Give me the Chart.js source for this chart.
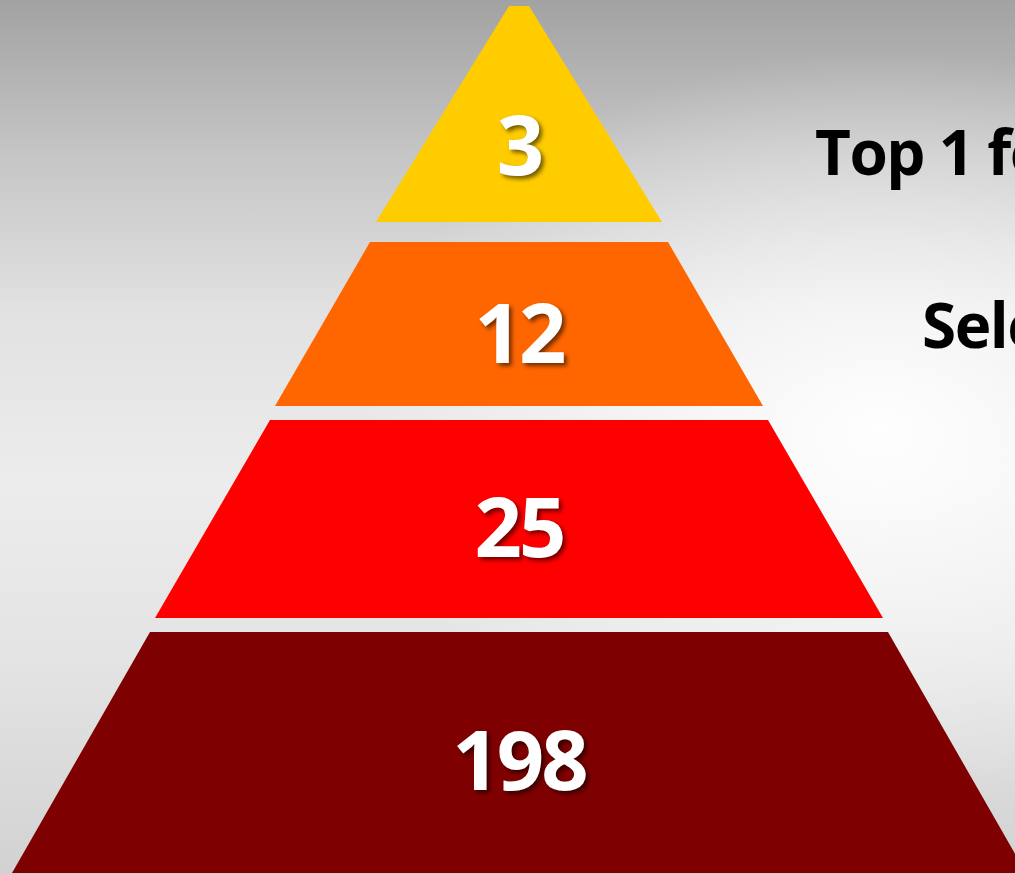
<!DOCTYPE html>
<html>
<head>
<meta charset="utf-8">
<script src="https://cdn.jsdelivr.net/npm/chart.js@4"></script>
<style>
  html, body { margin: 0; padding: 0; width: 1015px; height: 874px; overflow: hidden; }
  body {
    background:
      radial-gradient(ellipse 520px 380px at 880px 430px, rgba(255,255,255,0.95), rgba(255,255,255,0) 100%),
      linear-gradient(to bottom, #a2a2a2 0%, #c6c6c6 18%, #e2e2e2 36%, #ececec 55%, #e4e4e4 75%, #d2d2d2 100%);
  }
  #wrap { position: absolute; left: 0; top: 0; width: 1015px; height: 874px; }
</style>
</head>
<body>
<div id="wrap"><canvas id="c" width="1015" height="874"></canvas></div>
<script>
// ---- data ----
const levels = ['Level 1', 'Level 2', 'Level 3', 'Level 4'];
const values = [3, 12, 25, 198];
const sideLabels = ['Top 1 for', 'Selected'];

// ---- styles ----
const colors = ['#FFCC00', '#FF6600', '#FF0000', '#7F0000'];

// ---- layout (scale units, pyramid geometry) ----
const centerX = 519;
const bandTop = [6, 242, 420, 632];
const bandBottom = [222, 406, 618, 873];
const halfTop = [10, 149, 249, 369];
const halfBottom = [143, 244, 364, 507];
const labelMidY = [151, 339, 533, 766];
const sideLabelPos = [[815, 157], [922, 330]];

function bandPolygon(i) {
  return [
    { x: centerX - halfTop[i], y: bandTop[i] },
    { x: centerX + halfTop[i], y: bandTop[i] },
    { x: centerX + halfBottom[i], y: bandBottom[i] },
    { x: centerX - halfBottom[i], y: bandBottom[i] },
    { x: centerX - halfTop[i], y: bandTop[i] }
  ];
}

const datasets = levels.map((name, i) => ({
  label: name,
  data: bandPolygon(i),
  showLine: true,
  fill: 'shape',
  backgroundColor: colors[i],
  borderColor: colors[i],
  borderWidth: 0,
  pointRadius: 0,
  tension: 0
}));

const labelPlugin = {
  id: 'pyramidLabels',
  afterDatasetsDraw(chart) {
    const ctx = chart.ctx;
    const xs = chart.scales.x, ys = chart.scales.y;
    ctx.save();
    ctx.font = 'bold 83px "Open Sans", sans-serif';
    ctx.textAlign = 'center';
    ctx.textBaseline = 'middle';
    try { ctx.letterSpacing = '-3px'; } catch (e) {}
    values.forEach((v, i) => {
      ctx.shadowColor = 'rgba(0,0,0,0.55)';
      ctx.shadowOffsetX = 3;
      ctx.shadowOffsetY = 3;
      ctx.shadowBlur = 4;
      ctx.fillStyle = '#ffffff';
      ctx.fillText(String(v), xs.getPixelForValue(centerX), ys.getPixelForValue(labelMidY[i]));
    });
    ctx.shadowColor = 'transparent';
    try { ctx.letterSpacing = '-1.5px'; } catch (e) {}
    ctx.font = 'bold 62px "Open Sans", sans-serif';
    ctx.textAlign = 'left';
    ctx.fillStyle = '#000000';
    sideLabels.forEach((t, i) => {
      ctx.fillText(t, xs.getPixelForValue(sideLabelPos[i][0]), ys.getPixelForValue(sideLabelPos[i][1]));
    });
    ctx.restore();
  }
};

new Chart(document.getElementById('c'), {
  type: 'scatter',
  data: { datasets },
  options: {
    responsive: false,
    animation: false,
    layout: { padding: 0 },
    plugins: { legend: { display: false }, tooltip: { enabled: false } },
    scales: {
      x: { type: 'linear', min: 0, max: 1015, display: false },
      y: { type: 'linear', min: 0, max: 874, reverse: true, display: false }
    }
  },
  plugins: [labelPlugin]
});
</script>
</body>
</html>
